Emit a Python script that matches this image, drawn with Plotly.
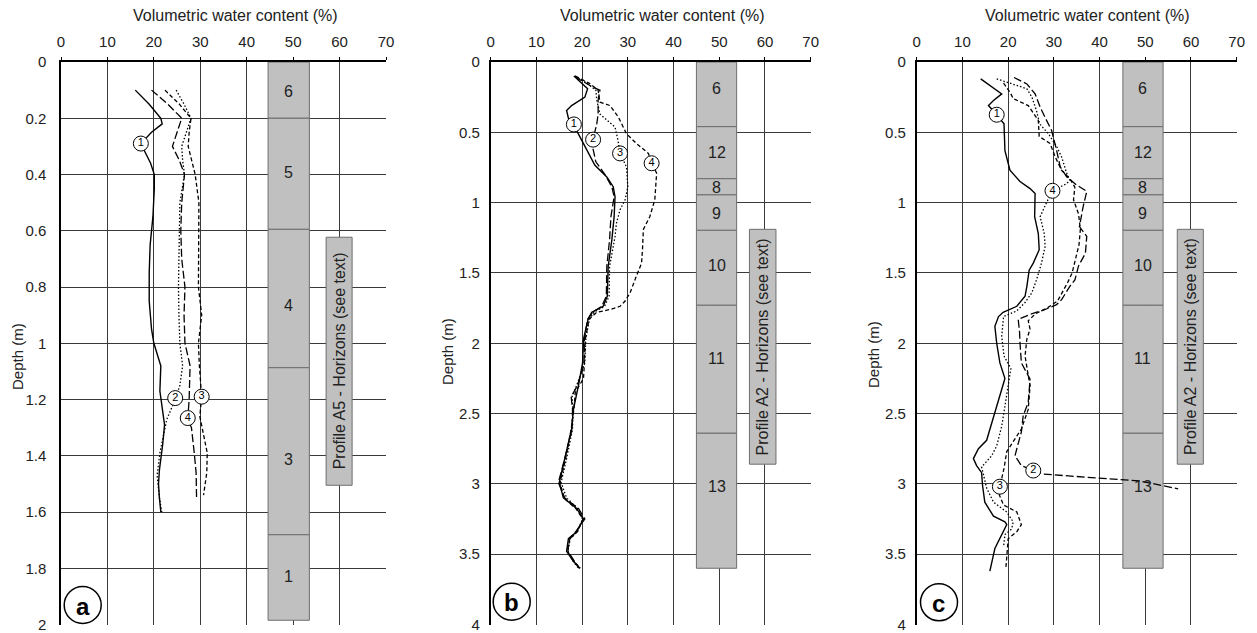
import plotly.graph_objects as go

W, H = 1257, 633
OFF = 8  # page body margin of the written html
FONT = "Liberation Sans, Arial, sans-serif"

# ---------------- Panel a (Profile A5) ----------------
a_d1 = [0.10, 0.15, 0.20, 0.22, 0.25, 0.29, 0.32, 0.36, 0.40, 0.45, 0.55, 0.65, 0.75, 0.85, 0.95, 1.00, 1.08, 1.17, 1.29, 1.36, 1.45, 1.50, 1.55, 1.60]
a_v1 = [16.0, 19.0, 21.5, 21.8, 19.5, 17.2, 18.1, 19.3, 20.1, 20.1, 19.8, 19.2, 19.0, 19.0, 19.5, 20.0, 21.5, 21.3, 22.3, 21.9, 21.2, 21.0, 21.2, 21.5]
a_d2 = [0.10, 0.15, 0.20, 0.25, 0.30, 0.35, 0.40, 0.50, 0.60, 0.70, 0.80, 0.90, 1.00, 1.08, 1.15, 1.20, 1.27, 1.39, 1.47, 1.55, 1.60]
a_v2 = [24.8, 26.5, 28.0, 27.0, 26.0, 26.2, 26.6, 25.6, 25.5, 25.4, 25.3, 25.4, 25.6, 26.2, 25.6, 24.6, 22.8, 21.3, 20.7, 21.2, 21.7]
a_d3 = [0.10, 0.15, 0.20, 0.25, 0.30, 0.40, 0.50, 0.60, 0.70, 0.80, 0.90, 1.00, 1.08, 1.15, 1.19, 1.26, 1.345, 1.39, 1.46, 1.54]
a_v3 = [22.4, 25.5, 28.0, 27.6, 27.4, 28.9, 29.7, 29.7, 29.7, 29.6, 30.3, 29.6, 29.8, 30.1, 30.3, 29.9, 31.0, 31.5, 31.4, 30.7]
a_d4 = [0.10, 0.15, 0.20, 0.25, 0.30, 0.35, 0.40, 0.50, 0.60, 0.70, 0.80, 0.90, 1.00, 1.08, 1.20, 1.27, 1.30, 1.39, 1.46, 1.55]
a_v4 = [19.5, 23.0, 26.0, 25.0, 24.0, 25.5, 26.6, 26.0, 25.8, 26.0, 26.7, 26.5, 26.7, 27.8, 27.6, 27.3, 28.1, 28.7, 29.1, 29.2]
a_lab_text = ["1", "2", "3", "4"]
a_lab_x = [17.2, 24.6, 30.3, 27.3]
a_lab_y = [0.29, 1.195, 1.19, 1.266]
a_hz_top = [0.0, 0.20, 0.595, 1.087, 1.681]
a_hz_bot = [0.20, 0.595, 1.087, 1.681, 1.985]
a_hz_name = ["6", "5", "4", "3", "1"]
a_hz_laby = [0.105, 0.394, 0.865, 1.413, 1.83]

# ---------------- Panel b (Profile A2) ----------------
b_d1 = [0.10, 0.19, 0.25, 0.31, 0.345, 0.40, 0.444, 0.463, 0.58, 0.734, 0.817, 0.887, 0.958, 1.10, 1.265, 1.454, 1.666, 1.737, 1.78, 1.83, 1.97, 2.14, 2.30, 2.47, 2.61, 2.82, 2.99, 3.10, 3.175, 3.25, 3.34, 3.39, 3.48, 3.55, 3.60]
b_v1 = [18.2, 21.2, 20.6, 17.7, 16.6, 17.0, 18.2, 18.4, 20.3, 22.8, 25.4, 26.8, 27.2, 27.0, 26.5, 25.7, 25.5, 24.6, 22.1, 21.3, 20.3, 20.1, 19.2, 18.1, 17.7, 16.3, 15.0, 15.9, 18.8, 20.3, 18.8, 17.0, 16.6, 18.1, 19.5]
b_d2 = [0.10, 0.12, 0.18, 0.20, 0.27, 0.37, 0.44, 0.55, 0.62, 0.71, 0.80, 0.887, 0.958, 1.10, 1.265, 1.454, 1.666, 1.737, 1.78, 1.83, 1.97, 2.14, 2.30, 2.38, 2.47, 2.61, 2.82, 2.99, 3.10, 3.175, 3.25, 3.34, 3.39, 3.48, 3.55, 3.60]
b_v2 = [18.5, 19.2, 22.4, 23.9, 23.5, 23.5, 23.2, 22.4, 22.4, 23.0, 25.0, 26.5, 27.0, 26.3, 26.0, 25.4, 25.3, 24.3, 22.3, 21.2, 20.5, 20.4, 19.0, 17.6, 17.9, 17.8, 16.2, 14.8, 16.2, 19.2, 20.6, 18.6, 17.2, 16.9, 18.3, 19.4]
b_d3 = [0.10, 0.15, 0.20, 0.27, 0.37, 0.415, 0.463, 0.55, 0.65, 0.746, 0.887, 0.98, 1.05, 1.147, 1.24, 1.35, 1.454, 1.666, 1.737, 1.78, 1.83, 1.97, 2.14, 2.30, 2.38, 2.47, 2.61, 2.82, 2.99, 3.10, 3.175, 3.25, 3.34, 3.39, 3.48, 3.55, 3.60]
b_v3 = [18.5, 21.0, 23.0, 23.2, 23.9, 25.4, 27.2, 27.8, 28.3, 29.7, 30.0, 29.4, 28.3, 27.5, 27.2, 26.6, 26.0, 25.9, 24.9, 22.6, 21.6, 20.8, 20.6, 18.8, 17.8, 18.0, 17.9, 16.6, 15.4, 16.6, 19.0, 20.1, 18.9, 17.4, 16.9, 18.0, 19.2]
b_d4 = [0.10, 0.15, 0.20, 0.286, 0.31, 0.39, 0.51, 0.58, 0.65, 0.72, 0.79, 0.98, 1.10, 1.19, 1.335, 1.43, 1.52, 1.64, 1.70, 1.737, 1.76, 1.78, 1.83, 1.97, 2.14, 2.25, 2.35, 2.47, 2.61, 2.82, 2.99, 3.10, 3.175, 3.25, 3.34, 3.39, 3.48, 3.55, 3.60]
b_v4 = [18.5, 21.5, 23.5, 23.9, 26.1, 27.9, 29.7, 31.9, 34.5, 35.2, 36.3, 35.9, 34.8, 33.4, 33.2, 33.0, 31.9, 30.5, 29.4, 28.3, 26.1, 23.2, 21.5, 20.7, 20.5, 20.3, 18.5, 18.2, 17.6, 16.4, 15.2, 16.0, 18.6, 20.2, 19.0, 17.3, 16.8, 18.2, 19.6]
b_lab_text = ["1", "2", "3", "4"]
b_lab_x = [18.2, 22.4, 28.3, 35.2]
b_lab_y = [0.444, 0.552, 0.65, 0.72]

# ---------------- Panel c (Profile A2) ----------------
c_d1 = [0.12, 0.227, 0.274, 0.31, 0.375, 0.44, 0.63, 0.77, 0.85, 0.90, 0.935, 1.10, 1.22, 1.335, 1.43, 1.48, 1.595, 1.666, 1.737, 1.78, 1.81, 1.88, 2.00, 2.14, 2.25, 2.37, 2.49, 2.61, 2.69, 2.75, 2.82, 2.87, 2.92, 3.01, 3.13, 3.23, 3.27, 3.29, 3.36, 3.46, 3.62]
c_v1 = [14.0, 18.6, 16.8, 15.7, 17.5, 19.1, 19.3, 20.4, 22.6, 24.8, 25.9, 25.8, 26.6, 26.8, 25.5, 24.6, 24.1, 23.7, 21.9, 18.9, 17.9, 17.1, 17.5, 18.2, 19.3, 18.2, 17.1, 16.0, 15.3, 13.5, 12.4, 13.1, 14.2, 14.4, 14.9, 16.8, 19.3, 19.7, 18.6, 17.1, 16.0]
c_d2 = [0.11, 0.156, 0.227, 0.32, 0.415, 0.486, 0.628, 0.746, 0.816, 0.875, 0.92, 1.03, 1.17, 1.24, 1.36, 1.45, 1.55, 1.595, 1.69, 1.725, 1.76, 1.795, 1.83, 1.92, 2.00, 2.14, 2.255, 2.42, 2.515, 2.63, 2.75, 2.80, 2.87, 2.905, 2.93, 2.98, 3.035]
c_v2 = [21.3, 24.1, 25.9, 27.0, 28.4, 29.5, 30.6, 31.4, 32.8, 35.0, 37.2, 36.4, 35.6, 37.2, 36.9, 35.4, 34.6, 33.5, 31.7, 30.6, 28.1, 24.8, 22.2, 22.5, 22.6, 22.9, 24.8, 24.4, 23.3, 22.9, 21.9, 21.5, 22.9, 25.5, 27.5, 48.9, 57.2]
c_d3 = [0.15, 0.22, 0.26, 0.31, 0.415, 0.53, 0.58, 0.675, 0.77, 0.83, 0.89, 0.98, 1.08, 1.19, 1.30, 1.40, 1.50, 1.57, 1.64, 1.70, 1.75, 1.79, 1.84, 1.90, 1.97, 2.09, 2.23, 2.30, 2.47, 2.61, 2.70, 2.77, 2.89, 3.02, 3.08, 3.15, 3.20, 3.29, 3.34, 3.39, 3.48, 3.60]
c_v3 = [19.0, 20.5, 21.1, 24.4, 26.6, 26.8, 29.2, 30.3, 31.7, 33.5, 34.6, 34.3, 35.4, 35.8, 35.5, 34.8, 34.0, 33.0, 31.8, 30.8, 28.5, 26.0, 24.4, 24.8, 24.1, 23.7, 24.4, 24.8, 24.4, 22.9, 21.1, 19.7, 19.1, 18.2, 18.1, 19.0, 21.9, 22.9, 21.9, 20.0, 19.8, 19.5]
c_d4 = [0.12, 0.156, 0.19, 0.25, 0.345, 0.44, 0.51, 0.60, 0.675, 0.79, 0.84, 0.865, 0.916, 1.00, 1.10, 1.22, 1.31, 1.43, 1.55, 1.64, 1.71, 1.77, 1.81, 1.95, 2.09, 2.18, 2.28, 2.42, 2.59, 2.73, 2.80, 2.88, 3.03, 3.13, 3.20, 3.27, 3.32, 3.36, 3.45]
c_v4 = [17.5, 21.1, 24.1, 25.2, 26.2, 26.9, 28.8, 30.6, 31.7, 32.8, 33.5, 32.8, 29.7, 28.4, 27.0, 27.9, 28.1, 27.3, 26.2, 25.2, 23.7, 21.9, 19.0, 18.6, 19.1, 20.6, 20.1, 19.3, 18.6, 17.5, 16.4, 14.2, 15.3, 16.8, 19.7, 21.1, 20.8, 19.3, 19.0]
c_lab_text = ["1", "2", "3", "4"]
c_lab_x = [17.5, 25.5, 18.2, 29.7]
c_lab_y = [0.375, 2.905, 3.02, 0.916]

# Horizons of profile A2 (panels b and c)
bc_hz_top = [0.0, 0.46, 0.83, 0.945, 1.197, 1.73, 2.64]
bc_hz_bot = [0.46, 0.83, 0.945, 1.197, 1.73, 2.64, 3.60]
bc_hz_name = ["6", "12", "8", "9", "10", "11", "13"]
bc_hz_laby = [0.19, 0.64, 0.894, 1.075, 1.45, 2.11, 3.02]

x_ticks = [0, 10, 20, 30, 40, 50, 60, 70]
panel_letters = ["a", "b", "c"]
profile_names = ["Profile A5 - Horizons (see text)", "Profile A2 - Horizons (see text)", "Profile A2 - Horizons (see text)"]

# ---------------- layout geometry (pixels in the screenshot) ----------------
px_x = [(61, 386), (490.7, 810.7), (916.7, 1236.7)]
px_top, px_bot = 62, 624.5
ymax = [2, 4, 4]
ydt = [0.2, 0.5, 0.5]
bar_x = [(44.6, 53.5), (45.0, 53.8), (45.1, 53.9)]
box_x = [(57.1, 62.7), (56.6, 62.4), (57.0, 62.7)]
box_y = [(0.623, 1.505), (1.19, 2.86), (1.19, 2.86)]
title_cx = [235.5, 662.4, 1087.4]
depth_pos = [(17, 357), (447, 352), (873, 355)]
letter_pos = [(82.7, 605), (511.7, 601.7), (939, 602.3)]
ylab_standoff = [10, 6, 6]

GRID = "#3a3a3a"
DOT = "1.5px,2px"
SHORT = "4px,2.5px"
LONG = "8px,3px"


def fx(p):
    return (p - OFF) / W


def fy(p):
    return 1 - (p - OFF) / H


fig = go.Figure()

panels = [
    dict(curves=[(a_d1, a_v1, "solid"), (a_d2, a_v2, DOT), (a_d3, a_v3, SHORT), (a_d4, a_v4, LONG)],
         labs=(a_lab_x, a_lab_y, a_lab_text),
         hz=(a_hz_top, a_hz_bot, a_hz_name, a_hz_laby)),
    dict(curves=[(b_d1, b_v1, "solid"), (b_d2, b_v2, LONG), (b_d3, b_v3, DOT), (b_d4, b_v4, SHORT)],
         labs=(b_lab_x, b_lab_y, b_lab_text),
         hz=(bc_hz_top, bc_hz_bot, bc_hz_name, bc_hz_laby)),
    dict(curves=[(c_d1, c_v1, "solid"), (c_d2, c_v2, LONG), (c_d3, c_v3, SHORT), (c_d4, c_v4, DOT)],
         labs=(c_lab_x, c_lab_y, c_lab_text),
         hz=(bc_hz_top, bc_hz_bot, bc_hz_name, bc_hz_laby)),
]

shapes = []
annotations = []
layout_axes = {}

for i, p in enumerate(panels):
    n = "" if i == 0 else str(i + 1)
    xr, yr = "x" + n, "y" + n
    for d, v, dash in p["curves"]:
        fig.add_trace(go.Scatter(x=v, y=d, mode="lines", xaxis=xr, yaxis=yr,
                                 line=dict(color="black", width=1.4 if dash == "solid" else 1.3, dash=dash),
                                 showlegend=False, hoverinfo="skip"))
    lx, ly, lt = p["labs"]
    fig.add_trace(go.Scatter(x=lx, y=ly, mode="markers+text", text=lt, xaxis=xr, yaxis=yr,
                             marker=dict(size=15, color="white", line=dict(color="black", width=1)),
                             textfont=dict(family=FONT, size=11, color="black"),
                             textposition="middle center", showlegend=False, hoverinfo="skip"))

    # horizon column
    tops, bots, names, laby = p["hz"]
    bx0, bx1 = bar_x[i]
    for t, b, nm, yl in zip(tops, bots, names, laby):
        shapes.append(dict(type="rect", xref=xr, yref=yr, x0=bx0, x1=bx1, y0=t, y1=b,
                           fillcolor="#c0c0c0", line=dict(color="#6e6e6e", width=1), layer="between"))
        annotations.append(dict(xref=xr, yref=yr, x=(bx0 + bx1) / 2, y=yl, text=nm, showarrow=False,
                                font=dict(family=FONT, size=16, color="#222")))
    # profile box
    shapes.append(dict(type="rect", xref=xr, yref=yr, x0=box_x[i][0], x1=box_x[i][1],
                       y0=box_y[i][0], y1=box_y[i][1],
                       fillcolor="#c0c0c0", line=dict(color="#6e6e6e", width=1), layer="between"))
    annotations.append(dict(xref=xr, yref=yr, x=(box_x[i][0] + box_x[i][1]) / 2,
                            y=(box_y[i][0] + box_y[i][1]) / 2, text=profile_names[i], textangle=-90,
                            showarrow=False, font=dict(family=FONT, size=16, color="#222")))
    # titles
    annotations.append(dict(xref="paper", yref="paper", x=fx(title_cx[i]), y=fy(16),
                            text="Volumetric water content (%)", showarrow=False,
                            xanchor="center", yanchor="middle",
                            font=dict(family=FONT, size=16, color="#222")))
    annotations.append(dict(xref="paper", yref="paper", x=fx(depth_pos[i][0]), y=fy(depth_pos[i][1]),
                            text="Depth (m)", textangle=-90, showarrow=False,
                            xanchor="center", yanchor="middle",
                            font=dict(family=FONT, size=15, color="#222")))
    # panel letter circle
    cx, cy = letter_pos[i]
    r = 18.5
    shapes.append(dict(type="circle", xref="paper", yref="paper", x0=fx(cx - r), x1=fx(cx + r),
                       y0=fy(cy + r), y1=fy(cy - r), fillcolor="white",
                       line=dict(color="black", width=1.5), layer="above"))
    annotations.append(dict(xref="paper", yref="paper", x=fx(cx), y=fy(cy + 1), text="<b>%s</b>" % panel_letters[i],
                            showarrow=False, xanchor="center", yanchor="middle",
                            font=dict(family=FONT, size=24, color="black")))

    x0p, x1p = px_x[i]
    layout_axes["xaxis" + n] = dict(domain=[fx(x0p), fx(x1p)], range=[0, 70], side="top", anchor=yr,
                                    tickvals=x_ticks, showgrid=True, gridcolor=GRID, gridwidth=1,
                                    showline=True, linecolor="black", linewidth=1.5, zeroline=False,
                                    ticks="outside", ticklen=3, tickcolor="black",
                                    tickfont=dict(family=FONT, size=15, color="#222"),
                                    ticklabelstandoff=4, fixedrange=True, automargin=False)
    layout_axes["yaxis" + n] = dict(domain=[fy(px_bot), fy(px_top)], range=[ymax[i], 0], anchor=xr,
                                    dtick=ydt[i], tick0=0, showgrid=True, gridcolor=GRID, gridwidth=1,
                                    showline=True, linecolor="black", linewidth=1.5, zeroline=False,
                                    ticks="", tickfont=dict(family=FONT, size=15, color="#222"),
                                    ticklabelstandoff=ylab_standoff[i], fixedrange=True, automargin=False)

fig.update_layout(width=W, height=H, margin=dict(l=0, r=0, t=0, b=0, autoexpand=False),
                  paper_bgcolor="white", plot_bgcolor="white",
                  shapes=shapes, annotations=annotations, showlegend=False, **layout_axes)

fig.write_html("out.html")
